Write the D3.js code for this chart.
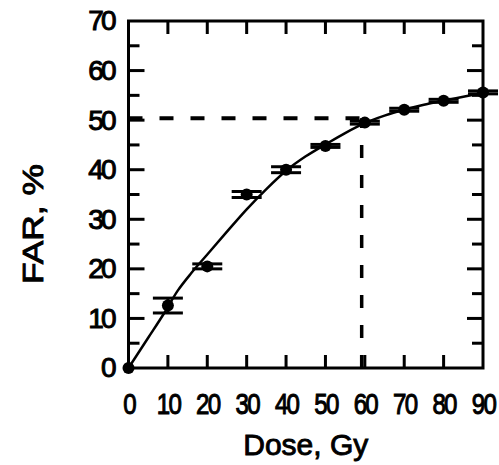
<!DOCTYPE html>
<html>
<head>
<meta charset="utf-8">
<script src="https://cdn.jsdelivr.net/npm/d3@7"></script>
<style>
  html, body { margin: 0; padding: 0; background: #fff; }
  svg { display: block; }
  text { font-family: "Liberation Sans", Arial, Helvetica, sans-serif; fill: #000; }
</style>
</head>
<body>
<svg id="chart" width="499" height="465"></svg>
<script>
// ---- data ----
const doses      = [0, 10, 20, 30, 40, 50, 60, 70, 80, 90];
const farValues  = [0, 12.6, 20.5, 35, 40, 44.8, 49.5, 52.1, 53.9, 55.6];
const farErrors  = [0, 1.5, 0.5, 0.6, 0.6, 0.3, 0.3, 0.3, 0.3, 0.3];

const fitDoses   = [0, 5, 9, 12.5, 16, 20, 25, 30, 35, 40, 45, 50, 55, 60, 65, 70, 75, 80, 85, 90];
const fitFar     = [0, 6.1, 11, 15.6, 19.2, 22.9, 27.5, 32.0, 36.1, 39.8, 42.7, 45.1, 47.4, 49.4, 50.9, 52.1, 53.1, 53.9, 54.7, 55.5];

const refDose = 59.2;
const refFar  = 50.4;

const xTickLabels = [0, 10, 20, 30, 40, 50, 60, 70, 80, 90];
const xTickMarks  = [10, 20, 30, 40, 50, 60, 70, 80];
const yTickLabels = [0, 10, 20, 30, 40, 50, 60, 70];
const yMajorTicks = [10, 20, 30, 40, 50, 60];
const yMinorTicks = [5, 15, 25, 35, 45, 55, 65];

const xTitle = "Dose, Gy";
const yTitle = "FAR, %";

// ---- layout ----
const svg = d3.select("#chart");
const pLeft = 128.5, pRight = 483, pTop = 21, pBottom = 368;

const x = d3.scaleLinear().domain([0, 90]).range([pLeft, pRight]);
const y = d3.scaleLinear().domain([0, 70]).range([pBottom, pTop]);

// ---- tick labels via d3 axes ----
function styleLabels(g) {
  g.select(".domain").remove();
  g.selectAll(".tick line").remove();
  g.selectAll(".tick text").style("font-size", "28px").attr("fill", "#000")
    .attr("stroke", "#000").attr("stroke-width", 1.0);
}

const yl = svg.append("g").attr("transform", `translate(${pLeft},0)`)
  .call(d3.axisLeft(y).tickValues(yTickLabels).tickSize(0).tickPadding(15).tickFormat(d3.format("d")))
  .call(styleLabels);
yl.selectAll(".tick text").style("letter-spacing", "-3px");

const xl = svg.append("g").attr("transform", `translate(0,${pBottom})`)
  .call(d3.axisBottom(x).tickValues(xTickLabels).tickSize(0).tickPadding(24).tickFormat(d3.format("d")))
  .call(styleLabels);
xl.selectAll(".tick text").attr("transform", "scale(0.86,1.05)").style("letter-spacing", "-2px");

// frame
svg.append("rect")
  .attr("x", pLeft).attr("y", pTop)
  .attr("width", pRight - pLeft).attr("height", pBottom - pTop)
  .attr("fill", "none").attr("stroke", "#000").attr("stroke-width", 3);

// ---- tick marks (inward), drawn as filled rects from the scales ----
const tickRects = [];
yMajorTicks.forEach(v => {
  tickRects.push({ x: pLeft, y: y(v) - 1.5, w: 16, h: 3 });
  tickRects.push({ x: pRight - 16, y: y(v) - 1.5, w: 16, h: 3 });
});
yMinorTicks.forEach(v => {
  tickRects.push({ x: pLeft, y: y(v) - 1.5, w: 11, h: 3 });
  tickRects.push({ x: pRight - 11, y: y(v) - 1.5, w: 11, h: 3 });
});
xTickMarks.forEach(v => {
  tickRects.push({ x: x(v) - 1.5, y: pBottom - 13, w: 3, h: 13 });
  tickRects.push({ x: x(v) - 1.5, y: pTop, w: 3, h: 13 });
});
svg.append("g").selectAll("rect").data(tickRects).join("rect")
  .attr("x", d => d.x).attr("y", d => d.y)
  .attr("width", d => d.w).attr("height", d => d.h)
  .attr("fill", "#000");

// ---- dashed reference lines ----
svg.append("line")
  .attr("x1", x(0)).attr("x2", x(refDose))
  .attr("y1", y(refFar)).attr("y2", y(refFar))
  .attr("stroke", "#000").attr("stroke-width", 4)
  .attr("stroke-dasharray", "14,17");
svg.append("line")
  .attr("x1", x(refDose)).attr("x2", x(refDose))
  .attr("y1", y(0)).attr("y2", y(refFar))
  .attr("stroke", "#000").attr("stroke-width", 3.5)
  .attr("stroke-dasharray", "13,17");

// ---- fitted curve ----
const fitData = fitDoses.map((d, i) => ({ dose: d, far: fitFar[i] }));
svg.append("path")
  .datum(fitData)
  .attr("fill", "none").attr("stroke", "#000").attr("stroke-width", 2.5)
  .attr("d", d3.line().x(d => x(d.dose)).y(d => y(d.far)).curve(d3.curveMonotoneX));

// ---- data points with error bars ----
const pts = doses.map((d, i) => ({ dose: d, far: farValues[i], err: farErrors[i] }));
const capHalf = 15;
const eb = svg.append("g").selectAll("g").data(pts.filter(d => d.err > 0)).join("g");
eb.append("line")
  .attr("x1", d => x(d.dose)).attr("x2", d => x(d.dose))
  .attr("y1", d => y(d.far - d.err)).attr("y2", d => y(d.far + d.err))
  .attr("stroke", "#000").attr("stroke-width", 3);
eb.append("line")
  .attr("x1", d => x(d.dose) - capHalf).attr("x2", d => x(d.dose) + capHalf)
  .attr("y1", d => y(d.far - d.err)).attr("y2", d => y(d.far - d.err))
  .attr("stroke", "#000").attr("stroke-width", 3);
eb.append("line")
  .attr("x1", d => x(d.dose) - capHalf).attr("x2", d => x(d.dose) + capHalf)
  .attr("y1", d => y(d.far + d.err)).attr("y2", d => y(d.far + d.err))
  .attr("stroke", "#000").attr("stroke-width", 3);

svg.append("g").selectAll("circle").data(pts).join("circle")
  .attr("cx", d => x(d.dose)).attr("cy", d => y(d.far))
  .attr("r", 6).attr("fill", "#000");

// ---- titles ----
svg.append("text")
  .attr("x", (pLeft + pRight) / 2).attr("y", 455)
  .attr("text-anchor", "middle")
  .style("font-size", "30px")
  .attr("stroke", "#000").attr("stroke-width", 0.9)
  .text(xTitle);

svg.append("text")
  .attr("transform", `translate(43,224) rotate(-90) scale(1.18,1)`)
  .attr("text-anchor", "middle")
  .style("font-size", "30px")
  .attr("stroke", "#000").attr("stroke-width", 0.9)
  .text(yTitle);
</script>
</body>
</html>
